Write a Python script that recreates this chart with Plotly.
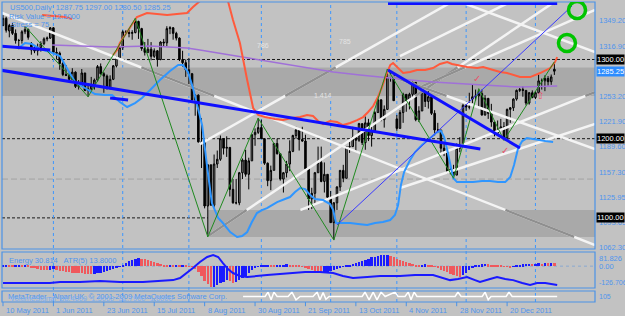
import plotly.graph_objects as go

# ---------------- data ----------------
opens = [1343,1352,1336,1343,1333,1324,1324,1335,1338,1320,1312,1311,1315,1320,1326,1327,
         1340,1309,1308,1295,1281,1280,1275,1284,1266,1267,1283,1261,1263,1267,1274,1291,1282,1279,1264,1275,1292,1302,
         1315,1335,1334,1333,1334,1348,1339,1314,1309,1313,1304,1311,1300,1322,1321,1339,1340,1333,1327,1300,1296,
         1287,1282,1249,1255,1196,1195,1115,1167,1116,1168,1174,1200,1188,1189,1136,1119,1119,1157,1173,1155,1172,1205,1208,
         1214,1200,1169,1147,1160,1194,1181,1149,1157,1168,1184,1204,1211,1199,1197,1162,1124,1131,1157,1170,1146,1155,
         1126,1094,1119,1139,1160,1150,1190,1190,1202,1198,1219,1195,1220,1204,1210,1233,1249,1224,1237,1280,1280,
         1225,1213,1233,1256,1248,1256,1271,1224,1235,1259,1247,1253,1232,1211,1211,1188,1183,1157,1161,1154,1188,1191,
         1242,1240,1250,1253,1254,1257,1230,1251,1232,1221,1207,1211,1215,1201,1237,1239,1250,1261,1262,1261,1245,1258,
         1252,1258,1273,1273,1276,1272,1287.75]
highs = [1356,1354,1345,1346,1338,1326,1337,1342,1339,1322,1318,1320,1323,1328,1329,1341,
         1341,1315,1310,1297,1293,1285,1289,1285,1274,1288,1283,1270,1278,1276,1293,1295,1284,1281,1280,1293,1304,1317,
         1337,1337,1338,1337,1352,1349,1340,1322,1326,1322,1314,1312,1323,1326,1342,1342,1341,1335,1328,1311,1300,
         1302,1283,1256,1256,1226,1195,1168,1167,1180,1185,1204,1200,1203,1189,1149,1149,1158,1175,1186,1176,1206,1213,1226,
         1224,1200,1170,1166,1194,1200,1181,1158,1172,1198,1205,1215,1211,1215,1205,1162,1138,1158,1190,1190,1170,1155,
         1134,1120,1140,1160,1167,1190,1196,1215,1203,1220,1219,1228,1225,1215,1235,1251,1250,1242,1288,1285,1280,
         1230,1236,1258,1256,1258,1272,1271,1241,1262,1260,1260,1255,1236,1220,1211,1196,1183,1165,1167,1194,1202,1244,
         1247,1258,1268,1262,1263,1262,1255,1251,1244,1221,1223,1225,1221,1238,1240,1251,1262,1264,1266,1261,1259,1261,
         1260,1281,1276,1280,1279,1281,1297.0]
lows = [1342,1334,1328,1331,1320,1313,1320,1332,1325,1306,1308,1305,1310,1318,1323,1326,
        1307,1300,1287,1279,1279,1272,1274,1264,1262,1267,1260,1253,1261,1262,1272,1281,1258,1262,1262,1274,1290,1301,
        1312,1332,1328,1325,1333,1326,1311,1305,1308,1299,1302,1291,1299,1316,1317,1332,1325,1324,1298,1291,1278,
        1269,1248,1229,1195,1163,1112,1076,1116,1113,1163,1172,1180,1177,1127,1118,1117,1116,1149,1152,1136,1172,1191,1206,
        1200,1167,1140,1135,1160,1180,1147,1132,1151,1159,1183,1200,1185,1196,1160,1110,1111,1117,1157,1145,1132,1125,
        1094,1072,1110,1134,1145,1150,1182,1190,1184,1196,1192,1186,1197,1190,1210,1233,1222,1214,1237,1272,1248,
        1210,1213,1220,1234,1237,1250,1222,1221,1235,1240,1238,1230,1204,1207,1180,1178,1156,1155,1150,1154,1183,1190,
        1235,1237,1245,1248,1240,1229,1229,1225,1215,1203,1206,1210,1198,1201,1220,1235,1248,1259,1253,1242,1243,1251,
        1250,1257,1262,1260,1267,1268,1280.5]
closes = [1352,1337,1343,1333,1324,1324,1335,1338,1328,1312,1311,1315,1320,1326,1327,1340,
          1309,1308,1295,1281,1280,1275,1284,1266,1267,1283,1261,1263,1267,1274,1291,1282,1279,1264,1275,1292,1302,1315,
          1335,1334,1333,1334,1348,1339,1314,1309,1313,1304,1311,1300,1322,1321,1339,1340,1333,1327,1300,1296,1287,
          1282,1249,1255,1196,1195,1115,1167,1116,1168,1174,1200,1188,1189,1136,1119,1119,1157,1173,1155,1172,1205,1208,1214,
          1200,1169,1147,1160,1194,1181,1149,1157,1168,1184,1204,1211,1199,1197,1162,1124,1131,1157,1170,1146,1155,1126,
          1094,1119,1139,1160,1150,1190,1190,1202,1198,1219,1195,1220,1204,1210,1233,1249,1224,1237,1280,1280,1248,
          1213,1233,1256,1248,1256,1271,1224,1235,1259,1247,1253,1232,1211,1211,1188,1183,1157,1161,1154,1188,1191,1242,
          1240,1240,1253,1254,1257,1230,1251,1232,1221,1207,1211,1215,1201,1237,1239,1250,1261,1262,1261,1245,1258,1252,
          1258,1273,1273,1276,1272,1278,1285.25]

energy = [3,4,3,2,3,4,2,3,2,
          -8,-12,-16,-20,-22,-23,
          -20,-18,-22,
          -26,-30,-33,-36,-38,-40,-41,-42,-43,-44,-45,-44,-42,-40,-36,-30,-24,-17,-10,-4,
          8,18,28,36,42,46,44,40,
          34,28,22,16,12,8,5,
          6,4,5,3,4,2,-2,-5,
          -15,-35,-60,-85,-105,-120,-118,
          -110,-100,-90,-80,-88,-95,-92,-80,-70,-55,-40,
          -25,-12,-5,2,3,4,3,2,4,6,8,10,8,6,4,2,
          -3,-8,-15,-22,-30,-38,-40,
          -38,-35,-30,-25,-18,-10,-4,2,
          8,14,20,26,32,38,44,50,55,59,62,64,64,
          60,52,44,36,30,24,18,12,8,
          6,8,10,9,6,
          -5,-12,-20,-28,-36,-45,-52,-58,-62,
          -50,-38,-25,-12,
          4,8,10,12,10,8,6,4,2,-2,
          -4,-6,-3,2,5,
          10,12,14,13,15,16,15,17,16,18,17]

energy_line_x = [0,8.6,14.9,18.1,24.4,30.8,37.1,44.4,49.8,54.0,56.2,58.4,60.3,62.5,64.8,66.7,68.3,69.8,71.4,73.0,
                 75.2,77.5,80.0,83.8,87.9,92.1,95.9,100.6,104.8,107.9,111.1,115.6,119.7,126.0,130.8,136.5,139.4,
                 141.9,144.4,147.3,149.8,151.4,154.6,156.8,159.4,161.9,164.8,167.3,169.5,172.1,175.9]
energy_line_y = [-98,-98,-98,-92,-92,-86,-92,-92,-86,-81,-69,-40,-11,24,53,64,53,18,-17,-40,
                 -57,-63,-57,-52,-46,-40,-34,-34,-40,-57,-69,-63,-57,-57,-52,-52,-69,
                 -81,-75,-63,-81,-92,-75,-63,-75,-81,-98,-109,-98,-98,-109]

pin_x = [76.2,83.2,84.1,85.1,86.0,87.0,90.5,91.7,93.0,94.3,98.4,99.7,100.6,101.6,102.5,103.5,114.0,114.9,116.2,
         117.5,118.7,120.0,121.3,124.4,125.4,127.6,128.6,129.5,130.5,131.4,143.5,144.4,145.4,152.1,153.0,154.0,
         154.9,159.7,160.6,161.6,175.9]
pin_y = [0,0,0.8,-0.6,0.8,0,0,0.8,-0.6,0,0,0.8,-0.6,0.7,-0.5,0,0,0.8,-0.6,
         0.8,-0.6,0.8,0,0.8,0,0,0.8,-0.6,0.8,0,0,0.8,0,0,0.8,-0.6,
         0,0,0.8,0,0]

red1_x = [12.4,16.5,19.7,21.9]
red1_y = [1356.1,1354.9,1353.6,1351.1]
red2_x = [34.9,36.2,37.1,39.4,41.3,42.5,45.7,48.9,52.1,55.2,58.4,60.3,62.5,66.0,71.4,73.0,75.2,77.5,79.4,81.0,
          83.2,86.3,88.9,91.7,94.3,96.5,98.4,100.0,101.6,103.8,106.0,107.9,110.2,112.4,114.3,115.9,117.5,119.0,
          120.3,121.6,122.9,123.8,125.1,127.0,129.2,131.4,134.0,136.5,138.7,141.0,142.5,144.1,147.3,150.5,152.4,
          155.6,157.8,160.0,161.9,164.1,167.3,170.5,173.7,175.2,175.9]
red2_y = [1305.6,1311.9,1320.8,1334.7,1347.3,1353.6,1358.7,1357.4,1356.1,1357.4,1358.7,1366.2,1373.8,1400,1373.8,
          1349.8,1320.8,1274.1,1238.7,1229.9,1227.3,1224.8,1223.5,1226.1,1227.3,1229.9,1228.6,1222.3,1218.5,1222.3,
          1221.0,1217.2,1219.8,1223.5,1227.3,1233.7,1241.2,1252.6,1265.2,1280.4,1293.0,1295.5,1290.5,1282.9,1284.2,
          1286.7,1286.7,1289.2,1294.3,1296.8,1294.3,1293.0,1290.5,1289.2,1290.5,1286.7,1284.2,1282.9,1280.4,1277.8,
          1277.8,1282.9,1289.2,1296.8,1303.1]

lowband_x = [5.4,7.0,9.2,11.7,14.9,18.1,20.6,22.9,26.0,29.2,32.4,34.6,37.1,39.4,41.9,44.1,46.7,49.8,53.0,55.6,
             57.1,58.7,60.3,61.9,63.2,64.8,66.3,68.3,69.8,72.1,74.3,75.9,77.5,79.0,80.6,82.2,83.8,85.4,87.0,89.5,
             91.1,92.7,94.3,95.9,97.5,99.0,101.6,103.8,104.8,105.7,107.9,110.2,112.7,115.6,118.1,120.6,122.9,124.4,
             125.4,126.3,127.3,129.2,130.8,133.0,134.9,136.5,137.8,139.0,140.0,141.0,141.9,142.9,144.1,146.7,149.2,
             152.1,154.6,157.1,159.4,161.0,162.2,163.5,164.8,166.3,167.9,169.5,172.1,174.6]
lowband_y = [1315.7,1320.8,1319.5,1313.2,1309.4,1304.4,1286.7,1271.5,1264.0,1256.4,1255.1,1255.1,1246.3,1240.0,
             1245.0,1251.3,1261.4,1274.1,1285.4,1293.0,1293.0,1284.2,1264.0,1238.7,1217.2,1164.2,1118.7,1099.8,
             1093.5,1082.1,1075.8,1077.1,1082.1,1094.7,1106.1,1109.9,1112.4,1116.2,1120.0,1123.8,1126.3,1132.6,
             1137.7,1136.4,1128.8,1123.8,1122.5,1117.5,1109.9,1093.5,1093.5,1093.5,1092.2,1090.9,1093.5,1094.7,
             1097.3,1103.6,1116.2,1141.4,1157.8,1173.0,1183.1,1192.0,1198.3,1204.6,1208.4,1209.7,1202.1,1185.6,
             1166.7,1150.3,1145.2,1145.2,1145.2,1146.5,1146.5,1145.2,1145.2,1151.6,1166.7,1188.2,1197.0,1200.8,
             1199.5,1198.3,1197.0,1195.8]

ma_x = [15.6,24.4,34.0,46.7,58.4,62.5,72.1,82.5,94.3,104.8,113.3,121.9,129.2,136.5,145.1,152.4,164.1,175.9]
ma_y = [1318.3,1317.0,1315.7,1317.0,1314.5,1311.9,1305.6,1299.3,1291.7,1284.2,1280.4,1276.6,1274.1,1271.5,
        1269.0,1267.8,1265.2,1266.5]

zig_x = [7,27,42,65,81,105,122,143,151,159,175]
zig_y = [1342,1253,1352,1076,1226,1072,1288,1150,1263,1198,1297]

# trend lines: (x0, p0, x1, p1)
thick_blue = [(-0.95,1286.7,151.5,1186.9),(122.2,1286.7,164.1,1188.2),(-0.95,1317.0,15.0,1312.0),
              (34.0,1251.3,39.7,1248.8),(122.2,1370.7,175.9,1370.7)]
thin_blue = [(106.0,1091.0,180.6,1367.5)]
white_lines = [(-0.95,1359.9,187.9,1065.7),   # long descending
               (62.5,1193.2,143.5,1375.1),    # upper ascending
               (65.1,1077.1,175.9,1375.1),    # ascending from Aug low
               (94.3,1109.9,187.9,1258.9),    # lower ascending
               (126.0,1137.7,187.9,1218.5),   # lowest ascending
               (132.4,1265.2,187.9,1362.5),   # right ascending
               (126.0,1304.4,162.2,1375.1),   # top ascending
               (143.5,1375.1,187.9,1309.4),   # top-right descending
               (122.2,1280.4,187.9,1187.0)]   # right descending
bands = [(-1,1254.0,1290.0),(65,1076.0,1110.0)]   # (x start, low, high)
hlines = [1300.0,1200.0,1100.0]
month_sep = [16,38,59,82,104,125,147,169]
date_idx = [0,16,32,48,64,80,96,112,128,144,160]
date_labels = ["10 May 2011","1 Jun 2011","23 Jun 2011","15 Jul 2011","8 Aug 2011","30 Aug 2011",
               "21 Sep 2011","13 Oct 2011","4 Nov 2011","28 Nov 2011","20 Dec 2011"]
price_ticks = [1349.20,1316.90,1253.20,1221.90,1189.60,1157.30,1125.95,1093.65,1062.30]
boxed_ticks = [1300.00,1200.00,1100.00]
last_price = 1285.25
circles = [(182.2,1362.5),(179.0,1320.8)]

# ---------------- figure ----------------
BG = '#c2c2c2'
AX = '#4a92e6'
TXT = '#4f95ee'
XR = [-0.32, 187.9]
YR = [1060.7, 1372.6]
ER = [-126.706, 81.826]
FONT = 'Liberation Sans'

fig = go.Figure()

# white lines + gray (xor-like) parts inside bands
for (x0, p0, x1, p1) in white_lines:
    fig.add_trace(go.Scatter(x=[x0, x1], y=[p0, p1], mode='lines', line=dict(color='#f4f4f4', width=2.5),
                             hoverinfo='skip', xaxis='x', yaxis='y'))
    for (bx, lo, hi) in bands:
        ta = (lo - p0) / (p1 - p0)
        tb = (hi - p0) / (p1 - p0)
        t0, t1 = max(0.0, min(ta, tb)), min(1.0, max(ta, tb))
        tx = (bx - x0) / (x1 - x0)
        t0 = max(t0, tx)
        if t1 > t0:
            fig.add_trace(go.Scatter(x=[x0 + (x1 - x0) * t0, x0 + (x1 - x0) * t1],
                                     y=[p0 + (p1 - p0) * t0, p0 + (p1 - p0) * t1],
                                     mode='lines', line=dict(color='#8f8f8f', width=2.5),
                                     hoverinfo='skip', xaxis='x', yaxis='y'))

idx = list(range(len(closes)))
fig.add_trace(go.Candlestick(x=idx, open=opens, high=highs, low=lows, close=closes,
                             increasing=dict(line=dict(color='#000000', width=1), fillcolor='#8a8a8a'),
                             decreasing=dict(line=dict(color='#000000', width=1), fillcolor='#000000'),
                             whiskerwidth=0, xaxis='x', yaxis='y', hoverinfo='skip'))

fig.add_trace(go.Scatter(x=ma_x, y=ma_y, mode='lines', line=dict(color='#a070d8', width=1.5), xaxis='x', yaxis='y'))
fig.add_trace(go.Scatter(x=red1_x, y=red1_y, mode='lines', line=dict(color='#ff5a3c', width=2), xaxis='x', yaxis='y'))
fig.add_trace(go.Scatter(x=red2_x, y=red2_y, mode='lines', line=dict(color='#ff5a3c', width=2), xaxis='x', yaxis='y'))
fig.add_trace(go.Scatter(x=lowband_x, y=lowband_y, mode='lines', line=dict(color='#2f96ff', width=2), xaxis='x', yaxis='y'))
fig.add_trace(go.Scatter(x=zig_x, y=zig_y, mode='lines', line=dict(color='#1f8a1f', width=1), xaxis='x', yaxis='y'))
for (x0, p0, x1, p1) in thin_blue:
    fig.add_trace(go.Scatter(x=[x0, x1], y=[p0, p1], mode='lines', line=dict(color='#3a3aff', width=1), xaxis='x', yaxis='y'))
for (x0, p0, x1, p1) in thick_blue:
    fig.add_trace(go.Scatter(x=[x0, x1], y=[p0, p1], mode='lines', line=dict(color='#1010ff', width=3), xaxis='x', yaxis='y'))

# energy panel
ecol = []
for i, v in enumerate(energy):
    prev = energy[i - 1] if i > 0 else v
    ecol.append('#1a1aff' if v >= prev else '#f0585c')
fig.add_trace(go.Bar(x=idx, y=energy, marker=dict(color=ecol, line=dict(width=0)), width=0.75,
                     xaxis='x2', yaxis='y2', hoverinfo='skip'))
fig.add_trace(go.Scatter(x=energy_line_x, y=energy_line_y, mode='lines', line=dict(color='#1a1aff', width=2),
                         xaxis='x2', yaxis='y2'))
# pin panel
fig.add_trace(go.Scatter(x=pin_x, y=pin_y, mode='lines', line=dict(color='#ffffff', width=1.5), xaxis='x3', yaxis='y3'))

dom_main = [0.17667, 1.0]
dom_en = [0.04667, 0.16667]
dom_pin = [0.0, 0.03667]

ax_common = dict(range=XR, showgrid=False, zeroline=False, showticklabels=False, showline=False, fixedrange=True)
fig.update_layout(
    width=625, height=316, margin=dict(l=2, r=30, t=2, b=14),
    paper_bgcolor=BG, plot_bgcolor=BG, showlegend=False, bargap=0,
    xaxis=dict(domain=[0, 1], anchor='y', rangeslider=dict(visible=False), **ax_common),
    yaxis=dict(domain=dom_main, range=YR, showgrid=False, zeroline=False, showticklabels=False),
    xaxis2=dict(domain=[0, 1], anchor='y2', **ax_common),
    yaxis2=dict(domain=dom_en, range=ER, showgrid=False, zeroline=False, showticklabels=False),
    xaxis3=dict(domain=[0, 1], anchor='y3', **ax_common),
    yaxis3=dict(domain=dom_pin, range=[-1, 1], showgrid=False, zeroline=False, showticklabels=False),
)

shapes = []
for (bx, lo, hi) in bands:
    shapes.append(dict(type='rect', xref='x', yref='y', x0=bx, x1=XR[1], y0=lo, y1=hi,
                       fillcolor='#a9a9a9', line=dict(width=0), layer='below'))
for hp in hlines:
    shapes.append(dict(type='line', xref='paper', yref='y', x0=0, x1=1, y0=hp, y1=hp,
                       line=dict(color='#1a1a1a', width=1, dash='3px,2px'), layer='below'))
shapes.append(dict(type='line', xref='paper', yref='y', x0=0, x1=1, y0=1149, y1=1149,
                   line=dict(color='#a4a4a4', width=1, dash='6px,3px'), layer='below'))
for m in month_sep:
    shapes.append(dict(type='line', xref='x', yref='paper', x0=m, x1=m, y0=0, y1=1,
                       line=dict(color='#3c96ff', width=1, dash='3px,3px'), layer='below'))
shapes.append(dict(type='line', xref='paper', yref='y2', x0=0, x1=1, y0=0, y1=0,
                   line=dict(color='#8aa8d0', width=1, dash='dot'), layer='below'))
for d in (dom_main, dom_en, dom_pin):
    shapes.append(dict(type='rect', xref='paper', yref='paper', x0=0, x1=1, y0=d[0], y1=d[1],
                       line=dict(color=AX, width=1.2), fillcolor='rgba(0,0,0,0)'))
for di in date_idx:
    shapes.append(dict(type='line', xref='x3', yref='paper', x0=di, x1=di, y0=-0.014, y1=0,
                       line=dict(color=AX, width=1)))
for (cx, cy) in circles:
    shapes.append(dict(type='circle', xref='x', yref='y', xsizemode='pixel', ysizemode='pixel',
                       xanchor=cx, yanchor=cy, x0=-8.5, x1=8.5, y0=-8.5, y1=8.5,
                       line=dict(color='#00c400', width=3.5)))
fig.update_layout(shapes=shapes)

ann = []
small = dict(family=FONT, size=7.5, color=TXT)
for di, lab in zip(date_idx, date_labels):
    ann.append(dict(x=di, y=-0.027, xref='x3', yref='paper', text=lab, showarrow=False, xanchor='left',
                    yanchor='middle', xshift=1, font=small))
for p in price_ticks:
    ann.append(dict(x=1, y=p, xref='paper', yref='y', text=f"{p:.2f}", showarrow=False, xanchor='left',
                    yanchor='middle', xshift=2, font=small))
for p in boxed_ticks:
    ann.append(dict(x=1, y=p, xref='paper', yref='y', text=f"{p:.2f}", showarrow=False, xanchor='left',
                    yanchor='middle', xshift=1, bgcolor='#000000', borderpad=0,
                    font=dict(family=FONT, size=7.5, color='#ffffff')))
ann.append(dict(x=1, y=last_price, xref='paper', yref='y', text=f"{last_price:.2f}", showarrow=False,
                xanchor='left', yanchor='middle', xshift=1, bgcolor='#2c8cff', borderpad=0,
                font=dict(family=FONT, size=7.5, color='#ffffff')))
for val, txt in ((81.826, '81.826'), (0.0, '0.00'), (-126.706, '-126.706')):
    ann.append(dict(x=1, y=val, xref='paper', yref='y2', text=txt, showarrow=False, xanchor='left',
                    yanchor='top' if val > 50 else ('bottom' if val < -50 else 'middle'), xshift=2,
                    font=dict(family=FONT, size=7 if val < -50 else 7.5, color=TXT)))
ann.append(dict(x=1, y=1, xref='paper', yref='y3', text='105', showarrow=False, xanchor='left', yanchor='top',
                xshift=2, font=dict(family=FONT, size=7, color=TXT)))
ann.append(dict(x=0.01, y=0.982, xref='paper', yref='paper', text='US500,Daily  1287.75 1297.00 1280.50 1285.25',
                showarrow=False, xanchor='left', yanchor='middle', font=small))
ann.append(dict(x=0.008, y=0.953, xref='paper', yref='paper', text='Risk Value = 12.5000',
                showarrow=False, xanchor='left', yanchor='middle', font=small))
ann.append(dict(x=0.012, y=0.925, xref='paper', yref='paper', text='Stress = 75',
                showarrow=False, xanchor='left', yanchor='middle', font=small))
ann.append(dict(x=0.008, y=0.16, xref='paper', yref='paper', text='Energy 30.814   ATR(5) 13.8000',
                showarrow=False, xanchor='left', yanchor='top', font=small))
ann.append(dict(x=0.006, y=0.018, xref='paper', yref='paper',
                text='MetaTrader - Alpari UK, © 2001-2009 MetaQuotes Software Corp.',
                showarrow=False, xanchor='left', yanchor='middle', font=small))
ann.append(dict(x=0.01, y=0.012, xref='paper', yref='paper',
                text='VolumeSignal  68.4000  1.5000  31.7900  1.0000',
                showarrow=False, xanchor='left', yanchor='middle', font=dict(family=FONT, size=7.5, color='#7fb0f0')))
for (lx, ly, t) in ((82.5, 1318.0, '786'), (108.5, 1323.0, '785'), (101.5, 1255.0, '1.414')):
    ann.append(dict(x=lx, y=ly, xref='x', yref='y', text=t, showarrow=False,
                    font=dict(family=FONT, size=7, color='#e4e4e4')))
for (lx, ly, t) in ((150.5, 1276.6, '✓'), (159.4, 1185.6, '✓'), (170.5, 1255.0, '⇧')):
    ann.append(dict(x=lx, y=ly, xref='x', yref='y', text=t, showarrow=False,
                    font=dict(family='DejaVu Sans', size=10, color='#e8506a')))
fig.update_layout(annotations=ann)

fig.write_html("out.html")
